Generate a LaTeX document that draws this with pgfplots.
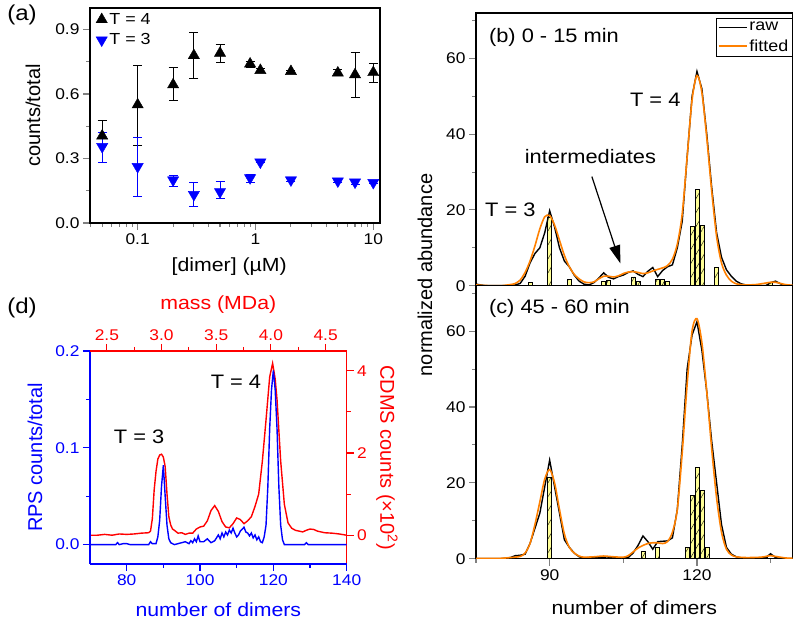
\documentclass[border=0pt]{standalone}
\usepackage{fontspec}
\setmainfont{Liberation Sans}[FakeStretch=1.12]
\newfontfamily\plainfont{Liberation Sans}
\usepackage{pgfplots}
\pgfplotsset{compat=1.18}
\usetikzlibrary{arrows.meta,patterns.meta}

\definecolor{fitorange}{RGB}{255,128,0}
\definecolor{baryellow}{RGB}{255,255,150}

\newcommand{\ticksz}{\fontsize{15.5}{18}\selectfont}
\newcommand{\labsz}{\fontsize{19}{23}\selectfont}
\newcommand{\ylabsz}{\plainfont\fontsize{20}{24}\selectfont}
\newcommand{\txtsz}{\fontsize{19.5}{23}\selectfont}
\newcommand{\legsz}{\fontsize{16}{19}\selectfont}

\pgfplotsset{
  every axis/.append style={
    scale only axis,
    anchor=south west,
    tick align=outside,
    major tick length=7pt,
    minor tick length=4pt,
    axis line style={line width=1.1pt},
    tick style={line width=1.1pt},
    tick label style={font=\ticksz},
    xlabel style={font=\labsz},
    ylabel style={font=\ylabsz},
    /pgf/number format/assume math mode=true,
  },
  hist/.style={ybar, bar width=0.8, fill=baryellow, draw=black, line width=0.5pt,
    postaction={pattern={Lines[angle=60,distance=7pt,line width=0.4pt]}}, forget plot},
  rawline/.style={black, line width=1.4pt},
  fitline/.style={fitorange, line width=1.6pt, smooth},
}

\begin{document}
\begin{tikzpicture}
\useasboundingbox (0pt,0pt) rectangle (800pt,620pt);

% (a) fraction of T=4 and T=3 vs concentration
\begin{axis}[
  at={(90pt,397pt)}, width=290pt, height=215pt,
  xmode=log, xmin=0.0394, xmax=11.4, ymin=0, ymax=1.0,
  xtick={0.1,1,10}, xticklabels={0.1,1,10},
  minor xtick={0.04,0.05,0.06,0.07,0.08,0.09,0.2,0.3,0.4,0.5,0.6,0.7,0.8,0.9,2,3,4,5,6,7,8,9},
  ytick={0,0.3,0.6,0.9}, minor ytick={0.15,0.45,0.75},
  yticklabel style={/pgf/number format/.cd,fixed,fixed zerofill,precision=1},
  xtick pos=bottom, ytick pos=left,
  xlabel={{}[dimer] (µM)}, ylabel={counts/total},
  xlabel style={at={(axis description cs:0.48,-0.205)}, anchor=center},
  ylabel style={at={(axis description cs:-0.197,0.5)}, anchor=center},
  legend style={draw=none, fill=none, at={(axis description cs:0.01,0.995)}, anchor=north west,
    font=\legsz, row sep=4pt},
  legend cell align=left,
  error bars/error bar style={line width=1pt},
  error bars/error mark options={rotate=90, mark size=4.5pt, line width=1pt},
]
\addplot[black, only marks, mark=triangle*, mark size=6.5pt,
  error bars/.cd, y dir=both, y explicit, error bar style={black}]
  table[x=x, y=y, y error plus=ep, y error minus=em] {
x y ep em
0.05 0.405 0.072 0.045
0.1 0.55 0.184 0.19
0.2 0.643 0.081 0.073
0.3 0.779 0.106 0.108
0.5 0.79 0.04 0.042
0.9 0.74 0.012 0.016
1.1 0.71 0.008 0.008
2 0.705 0.006 0.006
5 0.698 0.015 0.013
7 0.69 0.104 0.107
10 0.70 0.041 0.047
};
\addlegendentry{T = 4}
\addplot[blue, only marks, mark=triangle*, mark size=6.5pt, mark options={rotate=180},
  error bars/.cd, y dir=both, y explicit, error bar style={blue}]
  table[x=x, y=y, y error plus=ep, y error minus=em] {
x y ep em
0.05 0.355 0.065 0.075
0.1 0.262 0.137 0.137
0.2 0.2 0.02 0.029
0.3 0.132 0.058 0.054
0.5 0.145 0.048 0.033
0.9 0.21 0.014 0.023
1.1 0.283 0 0
2 0.2 0.005 0.005
5 0.195 0.008 0.008
7 0.19 0.01 0.012
10 0.188 0.005 0.005
};
\addlegendentry{T = 3}
\end{axis}

% (b) 0 - 15 min
\begin{axis}[
  at={(476pt,334.3pt)}, width=316.7pt, height=272.7pt,
  xmin=75, xmax=139.5, ymin=0, ymax=72,
  xtick=\empty, ytick={0,20,40,60}, minor ytick={10,30,50,70},
  ytick pos=left,
  legend style={at={(axis description cs:1,0.982)}, anchor=north east, draw=black,
    line width=0.8pt, font=\legsz, inner sep=2pt, row sep=3pt},
  legend cell align=left,
  legend image code/.code={\draw[#1, line width=1.5pt] (0pt,0pt) -- (28pt,0pt);},
]
\addplot[hist] coordinates {
(86,0.9) (90,18.1) (94,1.7) (101,1.05) (102,1.4) (107,2.3) (108,1.2)
(112,1.7) (113,1.7) (114,1.05) (119,15.6) (120,25.5) (121,15.9)
(123,0.2) (124,4.75) (135,0.8)
};
\addplot[rawline] coordinates {
(75,0.4) (76,0.2) (77,0) (78,0) (79,0) (80,0) (81,0) (82,0.1) (83,0.2)
(84,0.6) (85,2.5) (86,6) (87,8.5) (88,10) (89,14) (90,19.8) (91,15.5)
(92,10) (93,6.5) (94,5) (95,2.8) (96,1.2) (97,0.4) (98,0.2) (99,0.8)
(100,2.0) (101,3.4) (102,2.2) (103,1.8) (104,2.4) (105,2.8) (106,3.5)
(107,3.9) (108,3.0) (109,2.4) (110,3.8) (111,4.8) (112,2.4) (113,4.0)
(114,5.0) (115,5.5) (116,10) (117,17) (118,34) (119,50) (120,56.6)
(121,52) (122,40) (123,26) (124,14) (125,7.5) (126,4.2) (127,2.5)
(128,1.2) (129,0.5) (130,0.2) (131,0) (132,0) (133,0) (134,0) (135,0.8)
(136,1.2) (137,0.5) (138,0) (139.5,0)
};
\addlegendentry{raw}
\addplot[fitline] coordinates {
(75,0.2) (77,0.05) (80,0) (82,0.3) (83,0.6) (84,1.5) (85,3.5) (86,6.5)
(87,10.5) (88,15) (89,18.2) (90,18.5) (91,16) (92,12) (93,8) (94,5)
(95,3) (96,1.8) (97,1.0) (98,0.8) (99,1.0) (100,1.8) (101,2.5) (102,2.5)
(103,2.3) (104,2.6) (105,3.2) (106,3.6) (107,3.7) (108,3.5) (109,3.2)
(110,3.4) (111,3.9) (112,4.3) (113,4.7) (114,5.3) (115,7) (116,11)
(117,19) (118,34) (119,49) (120,55.5) (121,51) (122,39) (123,25)
(124,13) (125,6) (126,2.8) (127,1.2) (128,0.5) (129,0.3) (130,0.2)
(132,0.3) (134,0.7) (135,0.9) (136,0.9) (137,0.6) (138,0.3) (139.5,0.1)
};
\addlegendentry{fitted}
\node[font=\txtsz, anchor=west] at (axis description cs:0.03,0.912) {(b) 0 - 15 min};
\node[font=\txtsz] at (axis cs:111.5,49) {T = 4};
\node[font=\txtsz] at (axis cs:82,20) {T = 3};
\node[font=\txtsz] at (axis cs:98.3,34) {intermediates};
\draw[-{Triangle[length=18pt,width=11pt]}, line width=1.2pt]
  (axis cs:98.6,28.8) -- (axis cs:104.4,5.9);
\end{axis}

% (c) 45 - 60 min
\begin{axis}[
  at={(476pt,61.3pt)}, width=316.7pt, height=273pt,
  xmin=75, xmax=139.5, ymin=0, ymax=72,
  xtick={90,120}, minor xtick={75,105,135},
  ytick={0,20,40,60}, minor ytick={10,30,50,70},
  xtick pos=bottom, ytick pos=left,
  xlabel={number of dimers},
  xlabel style={at={(axis description cs:0.5,-0.18)}, anchor=center},
]
\addplot[hist] coordinates {
(90,21.6) (101,0.5) (109,1.85) (112,2.9) (118,3.0) (119,16.7)
(120,24.1) (121,18.1) (122,2.9) (134,0.3)
};
\addplot[rawline] coordinates {
(75,0) (80,0) (82,0.3) (83,0.8) (84,0.9) (85,1.2) (86,4) (87,8) (88,12)
(89,19) (90,26) (91,19) (92,12) (93,5) (94,3) (95,1.5) (96,0.5) (97,0.2)
(98,0.3) (99,0.3) (100,0.3) (101,0.6) (102,0.4) (103,0.2) (104,0.2)
(105,0.2) (106,0.3) (107,1.5) (108,3.5) (109,6) (110,4.5) (111,2.5)
(112,4.5) (113,4.6) (114,4.7) (115,5.5) (116,13) (117,30) (118,50)
(119,59) (120,62.5) (121,55) (122,44) (123,31) (124,20) (125,9) (126,3)
(127,1.2) (128,0.5) (129,0.2) (133,0.2) (134,0.3) (135,1.3) (136,0.3)
(137,0) (139.5,0)
};
\addplot[fitline] coordinates {
(75,0.1) (78,0.05) (80,0.1) (82,0.3) (84,0.6) (85,1.5) (86,4) (87,9)
(88,15) (89,21) (90,23.5) (91,20) (92,13) (93,6.5) (94,3) (95,1.5)
(96,0.7) (97,0.4) (99,0.5) (101,0.7) (103,0.5) (105,0.4) (106,0.8)
(107,1.8) (108,2.8) (109,3.5) (110,4.0) (111,4.2) (112,4.2) (113,4.0)
(114,4.5) (115,7) (116,13) (117,28) (118,46) (119,60) (120,63.3)
(121,57) (122,44) (123,29) (124,16) (125,7) (126,2.5) (127,1) (128,0.5)
(130,0.3) (133,0.4) (135,0.8) (136,0.6) (138,0.2) (139.5,0.1)
};
\node[font=\txtsz, anchor=west] at (axis description cs:0.03,0.918) {(c) 45 - 60 min};
\end{axis}

\node[font=\ylabsz, rotate=90] at (425pt,345pt) {normalized abundance};

% (d) CDMS counts (red, right axis)
\begin{axis}[
  at={(90pt,56pt)}, width=256.7pt, height=213pt,
  xmin=70, xmax=140, ymin=-0.70, ymax=4.48,
  axis x line=none, axis y line*=right,
  axis line style={red}, tick style={red}, tick label style={red}, label style={red},
  ytick={0,2,4}, minor ytick={1,3},
  ylabel={CDMS counts (×10\textsuperscript{2})},
  ylabel style={at={(axis description cs:1.157,0.5)}, anchor=center, rotate=-180},
]
\addplot[red, line width=1.4pt] coordinates {
(70,0.0) (72,0.0) (74,0.02) (76,0.0) (78,0.03) (80,0.02) (82,0.03) (84,0.05)
(86,0.06) (86.5,0.1) (87,0.4) (87.5,1.1) (88,1.55) (88.5,1.85) (89,1.95)
(89.5,1.97) (90,1.9) (90.5,1.67) (91,1.0) (91.5,0.45) (92,0.25) (92.5,0.15)
(93,0.12) (94,0.05) (95,0.06) (96,0.02) (97,0.05) (98,0.05) (99,0.15)
(100,0.2) (101,0.22) (102,0.35) (103,0.6) (104,0.72) (105,0.58) (106,0.33)
(107,0.2) (108,0.18) (109,0.28) (110,0.42) (111,0.38) (112,0.28) (113,0.35)
(114,0.45) (115,0.7) (116,1.0) (117,1.8) (118,2.8) (119,3.85) (119.8,4.18)
(120.5,3.8) (121,3.3) (122,1.8) (123,0.75) (124,0.3) (125,0.17) (126,0.12)
(127,0.1) (128,0.08) (129,0.12) (130,0.15) (131,0.14) (132,0.1) (133,0.08)
(134,0.06) (136,0.05) (138,0.03) (140,0.0)
};
\end{axis}

% (d) RPS counts (blue, left axis)
\begin{axis}[
  at={(90pt,56pt)}, width=256.7pt, height=213pt,
  xmin=70, xmax=140, ymin=-0.02, ymax=0.2,
  axis x line*=bottom, axis y line*=left,
  axis line style={blue}, tick style={blue}, tick label style={blue}, label style={blue},
  xtick={80,100,120,140}, minor xtick={90,110,130},
  ytick={0,0.1,0.2}, minor ytick={0.05,0.15},
  yticklabel style={/pgf/number format/.cd,fixed,fixed zerofill,precision=1},
  xlabel={number of dimers}, ylabel={RPS counts/total},
  xlabel style={at={(axis description cs:0.5,-0.216)}, anchor=center},
  ylabel style={at={(axis description cs:-0.214,0.5)}, anchor=center},
]
\addplot[blue, line width=1.4pt] coordinates {
(70,0) (77,0) (77.5,0.002) (78,0) (79,0.001) (80,0.001) (81,0) (86,0)
(86.5,0.003) (87,0.001) (88,0.001) (88.5,0.008) (89,0.025) (89.5,0.06)
(90,0.082) (90.5,0.05) (91,0.02) (91.5,0.006) (92,0.002) (93,0) (95,0.002)
(96,0.003) (97,0.001) (97.5,0.004) (98,0.002) (98.5,0.006) (99,0.003)
(99.5,0.009) (100,0.003) (101,0.003) (102,0.006) (103,0.002) (104,0.004)
(105,0.01) (105.5,0.006) (106,0.012) (106.5,0.008) (107,0.013) (107.5,0.01)
(108,0.015) (108.5,0.012) (109,0.017) (109.5,0.012) (110,0.008) (110.5,0.01)
(111,0.014) (112,0.018) (112.5,0.013) (113,0.012) (113.5,0.009) (114,0.012)
(114.5,0.007) (115,0.01) (115.5,0.005) (116,0.008) (116.5,0.003) (117,0.002)
(117.5,0.008) (118,0.02) (118.5,0.06) (119,0.12) (119.5,0.16) (120,0.18)
(120.5,0.16) (121,0.12) (121.5,0.06) (122,0.02) (122.5,0.005) (123,0)
(128.5,0) (129,0.002) (129.5,0) (140,0)
};
\node[font=\txtsz] at (axis cs:83.4,0.1117) {T = 3};
\node[font=\txtsz] at (axis cs:109.8,0.168) {T = 4};
\end{axis}

% (d) mass axis on top
\begin{axis}[
  at={(90pt,56pt)}, width=256.7pt, height=213pt,
  xmin=2.346, xmax=4.693, ymin=0, ymax=1,
  axis x line*=top, axis y line=none,
  axis line style={red}, tick style={red}, tick label style={red}, label style={red},
  xtick={2.5,3.0,3.5,4.0,4.5}, minor xtick={2.75,3.25,3.75,4.25},
  xticklabel style={/pgf/number format/.cd,fixed,fixed zerofill,precision=1},
  xlabel={mass (MDa)},
  xlabel style={at={(axis description cs:0.5,1.216)}, anchor=center},
]
\end{axis}

\node[font=\fontsize{21.5}{25}\selectfont] at (22pt,605pt) {(a)};
\node[font=\fontsize{21.5}{25}\selectfont] at (22pt,312pt) {(d)};
\end{tikzpicture}
\end{document}
